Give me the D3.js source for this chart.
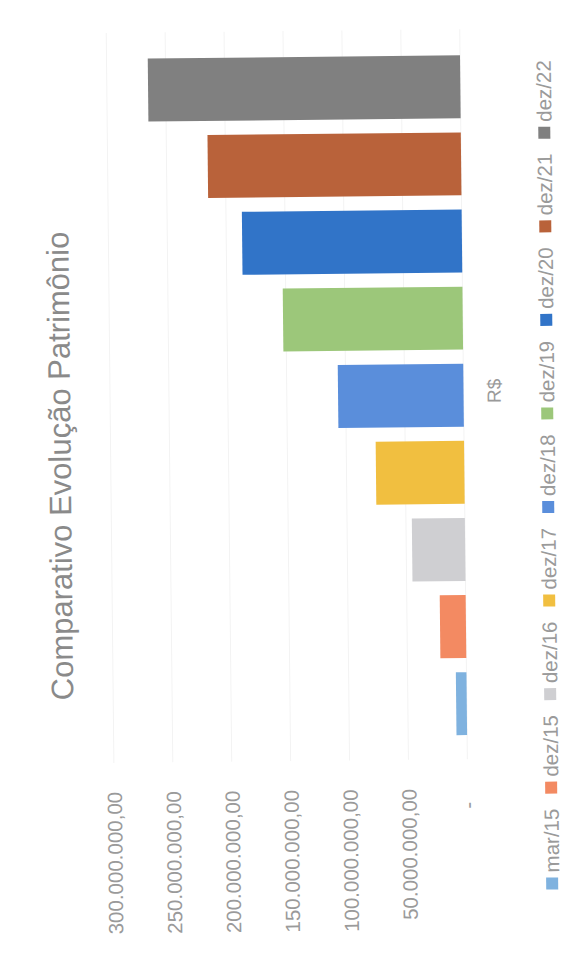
<!DOCTYPE html>
<html>
<head>
<meta charset="utf-8">
<script src="https://cdn.jsdelivr.net/npm/d3@7"></script>
<style>
  html, body { margin: 0; padding: 0; background: #ffffff; }
  svg { display: block; }
  text { font-family: "Liberation Sans", Arial, sans-serif; }
</style>
</head>
<body>
<svg id="chart" width="588" height="975"></svg>
<script>
// ---- data ----
const title = "Comparativo Evolução Patrimônio";
const categoryLabel = "R$";
const categories = ["mar/15", "dez/15", "dez/16", "dez/17", "dez/18", "dez/19", "dez/20", "dez/21", "dez/22"];
const values = [9000000, 22000000, 45000000, 75000000, 106500000, 152500000, 186500000, 215000000, 265000000];
const colors = ["#7fb2df", "#f38a62", "#cfcfd2", "#f1bf40", "#5a8edb", "#9cc77a", "#3174c8", "#b9623a", "#808080"];
const tickValues = [0, 50000000, 100000000, 150000000, 200000000, 250000000, 300000000];

// ---- layout (chart drawn in its natural orientation, then rotated) ----
const W = 975, H = 588;
const svg = d3.select("#chart");
const g = svg.append("g")
  .attr("transform", "rotate(-0.6,294,487) translate(0," + W + ") rotate(-90)");

const plotLeft = 214, plotRight = 944;
const y = d3.scaleLinear().domain([0, 300000000]).range([464.5, 111]);
const x = d3.scaleBand().domain(categories).range([231, 925]).paddingInner(0.184).paddingOuter(0.092);

const locale = d3.formatLocale({ decimal: ",", thousands: ".", grouping: [3], currency: ["R$", ""] });
const fmt = locale.format(",.2f");

const textColor = "#9a9a9a";

// gridlines
g.append("g").selectAll("line").data(tickValues).join("line")
  .attr("x1", plotLeft).attr("x2", plotRight)
  .attr("y1", d => y(d)).attr("y2", d => y(d))
  .attr("stroke", "#f3f3f3").attr("stroke-width", 1);

// value axis
const axis = d3.axisLeft(y).tickValues(tickValues).tickSize(0).tickPadding(0)
  .tickFormat(d => d === 0 ? "-" : fmt(d));
const ax = g.append("g").attr("transform", "translate(185,0)").call(axis);
ax.select(".domain").remove();
ax.selectAll("text")
  .attr("fill", textColor)
  .style("font-size", "20.5px")
  .style("font-family", "'Liberation Sans', Arial, sans-serif")
  .attr("dy", "0.35em");
ax.selectAll(".tick").filter(d => d === 0).select("text")
  .attr("text-anchor", "middle").attr("x", -17);

// bars
g.append("g").selectAll("rect").data(categories).join("rect")
  .attr("x", d => x(d))
  .attr("width", x.bandwidth())
  .attr("y", (d, i) => y(values[i]))
  .attr("height", (d, i) => y(0) - y(values[i]))
  .attr("fill", (d, i) => colors[i]);

// category label
g.append("text")
  .attr("x", (plotLeft + plotRight) / 2 + 3)
  .attr("y", 495)
  .attr("dy", "0.35em")
  .attr("text-anchor", "middle")
  .attr("fill", textColor)
  .style("font-size", "19px")
  .text(categoryLabel);

// title
g.append("text")
  .attr("x", 511.5)
  .attr("y", 71)
  .attr("text-anchor", "middle")
  .attr("fill", "#8a8a8a")
  .style("font-size", "31px")
  .text(title);

// legend
const legend = g.append("g");
const items = legend.selectAll("g").data(categories).join("g");
items.append("rect").attr("width", 12).attr("height", 12).attr("y", -6)
  .attr("fill", (d, i) => colors[i]);
items.append("text").attr("x", 17).attr("dy", "0.35em")
  .attr("fill", textColor).style("font-size", "20.5px").text(d => d);
let offset = 0;
const gap = 15;
items.each(function () {
  const el = d3.select(this);
  el.attr("transform", "translate(" + offset + ",0)");
  offset += 17 + el.select("text").node().getComputedTextLength() + gap;
});
offset -= gap;
legend.attr("transform", "translate(" + (497.5 - offset / 2) + ",548)");
</script>
</body>
</html>
